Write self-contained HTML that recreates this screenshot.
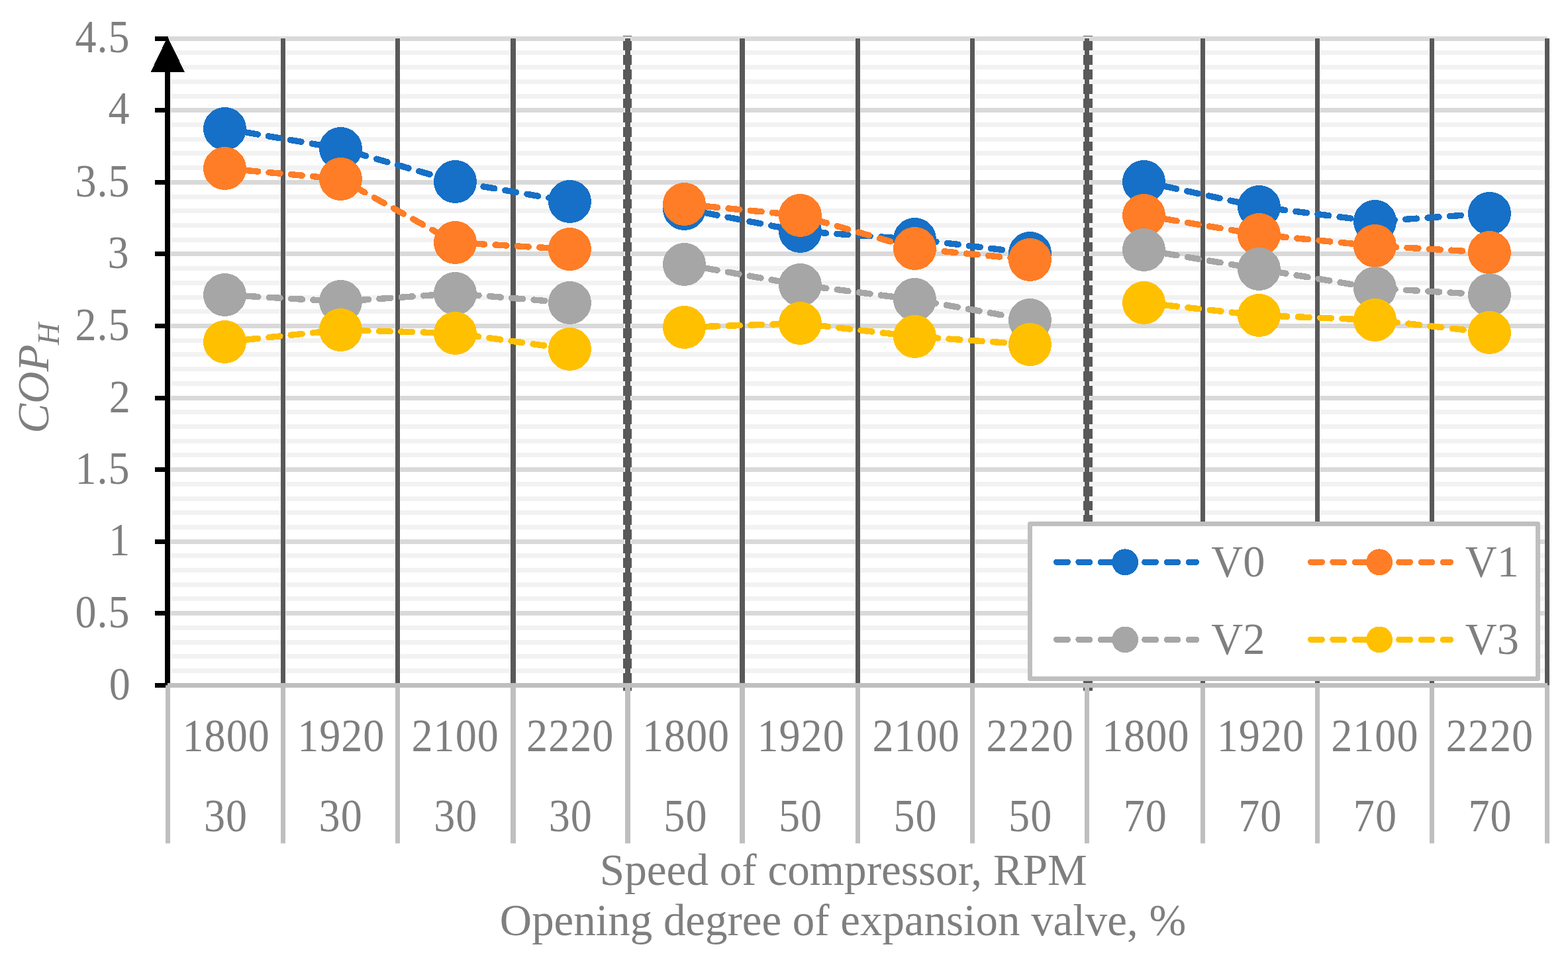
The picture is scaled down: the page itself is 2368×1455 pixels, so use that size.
<!DOCTYPE html>
<html lang="en"><head><meta charset="utf-8"><title>COP chart</title>
<style>html,body{margin:0;padding:0;background:#fff;}body{width:2368px;height:1455px;overflow:hidden;}svg{display:block;}text{font-family:'Liberation Serif', 'Times New Roman', Times, serif;font-size:66.67px;fill:#7f7f7f;}.d{font-size:69.7px;letter-spacing:1.1px;}.l{font-size:67.7px;}</style></head><body>
<svg width="2368" height="1455" viewBox="0 0 2368 1455">
<rect width="2368" height="1455" fill="#fff"/>
<path d="M947.5 54V55M947.5 62V76M947.5 83V98M947.5 105V120M947.5 127V142M947.5 149V163M947.5 170V185M947.5 192V207M947.5 214V228M947.5 235V250M947.5 257V272M947.5 279V294M947.5 301V315M947.5 322V337M947.5 344V359M947.5 366V380M947.5 387V402M947.5 409V424M947.5 431V446M947.5 453V467M947.5 474V489M947.5 496V511M947.5 518V532M947.5 539V554M947.5 561V576M947.5 583V598M947.5 605V619M947.5 626V641M947.5 648V663M947.5 670V684M947.5 691V706M947.5 713V728M947.5 735V750M947.5 757V771M947.5 778V793M947.5 800V815M947.5 822V836M947.5 843V858M947.5 865V880M947.5 887V901M947.5 908V923M947.5 930V945M947.5 952V967M947.5 974V988M947.5 995V1010M947.5 1017V1032M947.5 1039V1043.7" stroke="#595959" stroke-width="13" fill="none"/>
<path d="M1643 54V55M1643 62V76M1643 83V98M1643 105V120M1643 127V142M1643 149V163M1643 170V185M1643 192V207M1643 214V228M1643 235V250M1643 257V272M1643 279V294M1643 301V315M1643 322V337M1643 344V359M1643 366V380M1643 387V402M1643 409V424M1643 431V446M1643 453V467M1643 474V489M1643 496V511M1643 518V532M1643 539V554M1643 561V576M1643 583V598M1643 605V619M1643 626V641M1643 648V663M1643 670V684M1643 691V706M1643 713V728M1643 735V750M1643 757V771M1643 778V793M1643 800V815M1643 822V836M1643 843V858M1643 865V880M1643 887V901M1643 908V923M1643 930V945M1643 952V967M1643 974V988M1643 995V1010M1643 1017V1032M1643 1039V1043.7" stroke="#595959" stroke-width="14" fill="none"/>
<g stroke-width="7" fill="none">
<path stroke="#f2f2f2" d="M257.7 79.5H2334M257.7 101.5H2334M257.7 123.5H2334M257.7 145.5H2334M257.7 188.5H2334M257.7 210.5H2334M257.7 231.5H2334M257.7 253.5H2334M257.7 297.5H2334M257.7 318.5H2334M257.7 340.5H2334M257.7 362.5H2334M257.7 405.5H2334M257.7 427.5H2334M257.7 449.5H2334M257.7 470.5H2334M257.7 514.5H2334M257.7 535.5H2334M257.7 557.5H2334M257.7 579.5H2334M257.7 622.5H2334M257.7 644.5H2334M257.7 666.5H2334M257.7 687.5H2334M257.7 731.5H2334M257.7 753.5H2334M257.7 774.5H2334M257.7 796.5H2334M257.7 839.5H2334M257.7 861.5H2334M257.7 883.5H2334M257.7 904.5H2334M257.7 948.5H2334M257.7 970.5H2334M257.7 991.5H2334M257.7 1013.5H2334"/>
<path stroke="#d9d9d9" d="M254.7 58.5H2337M257.7 166.5H2334M257.7 275.5H2334M257.7 383.5H2334M257.7 492.5H2334M257.7 601.5H2334M257.7 709.5H2334M257.7 818.5H2334M257.7 926.5H2334"/>
</g>
<rect x="423" y="57" width="9" height="976" fill="#fff" fill-opacity=".35"/>
<rect x="596" y="57" width="9" height="976" fill="#fff" fill-opacity=".35"/>
<rect x="770" y="57" width="10" height="976" fill="#fff" fill-opacity=".35"/>
<path d="M948 76v7M948 98v7M948 120v7M948 142v7M948 163v7M948 185v7M948 207v7M948 228v7M948 250v7M948 272v7M948 294v7M948 315v7M948 337v7M948 359v7M948 380v7M948 402v7M948 424v7M948 446v7M948 467v7M948 489v7M948 511v7M948 532v7M948 554v7M948 576v7M948 598v7M948 619v7M948 641v7M948 663v7M948 684v7M948 706v7M948 728v7M948 750v7M948 771v7M948 793v7M948 815v7M948 836v7M948 858v7M948 880v7M948 901v7M948 923v7M948 945v7M948 967v7M948 988v7M948 1010v7" stroke="#fff" stroke-width="10.3" fill="none"/>
<rect x="943" y="57" width="10" height="5" fill="#fff" fill-opacity=".45"/>
<rect x="1116" y="57" width="10" height="976" fill="#fff" fill-opacity=".35"/>
<rect x="1291" y="57" width="9" height="976" fill="#fff" fill-opacity=".35"/>
<rect x="1464" y="57" width="9" height="976" fill="#fff" fill-opacity=".35"/>
<path d="M1641.5 76v7M1641.5 98v7M1641.5 120v7M1641.5 142v7M1641.5 163v7M1641.5 185v7M1641.5 207v7M1641.5 228v7M1641.5 250v7M1641.5 272v7M1641.5 294v7M1641.5 315v7M1641.5 337v7M1641.5 359v7M1641.5 380v7M1641.5 402v7M1641.5 424v7M1641.5 446v7M1641.5 467v7M1641.5 489v7M1641.5 511v7M1641.5 532v7M1641.5 554v7M1641.5 576v7M1641.5 598v7M1641.5 619v7M1641.5 641v7M1641.5 663v7M1641.5 684v7M1641.5 706v7M1641.5 728v7M1641.5 750v7M1641.5 771v7M1641.5 793v7M1641.5 815v7M1641.5 836v7M1641.5 858v7M1641.5 880v7M1641.5 901v7M1641.5 923v7M1641.5 945v7M1641.5 967v7M1641.5 988v7M1641.5 1010v7" stroke="#fff" stroke-width="9.3" fill="none"/>
<rect x="1637" y="57" width="9" height="5" fill="#fff" fill-opacity=".45"/>
<rect x="1812" y="57" width="9" height="976" fill="#fff" fill-opacity=".35"/>
<rect x="1985" y="57" width="9" height="976" fill="#fff" fill-opacity=".35"/>
<rect x="2158" y="57" width="9" height="976" fill="#fff" fill-opacity=".35"/>
<rect x="2332" y="57" width="9" height="976" fill="#fff" fill-opacity=".35"/>
<rect x="424" y="58" width="7" height="978" fill="#595959"/>
<rect x="597" y="58" width="7" height="978" fill="#595959"/>
<rect x="771" y="58" width="8" height="978" fill="#595959"/>
<rect x="944" y="58" width="8" height="978" fill="#595959"/>
<rect x="1117" y="58" width="8" height="978" fill="#595959"/>
<rect x="1292" y="58" width="7" height="978" fill="#595959"/>
<rect x="1465" y="58" width="7" height="978" fill="#595959"/>
<rect x="1638" y="58" width="7" height="978" fill="#595959"/>
<rect x="1813" y="58" width="7" height="978" fill="#595959"/>
<rect x="1986" y="58" width="7" height="978" fill="#595959"/>
<rect x="2159" y="58" width="7" height="978" fill="#595959"/>
<rect x="2333" y="58" width="7" height="978" fill="#595959"/>
<rect x="249" y="100" width="8" height="936" fill="#000"/>
<rect x="234" y="55" width="20" height="7" fill="#000"/>
<rect x="234" y="163" width="19" height="7" fill="#000"/>
<rect x="234" y="272" width="19" height="7" fill="#000"/>
<rect x="234" y="380" width="19" height="7" fill="#000"/>
<rect x="234" y="489" width="19" height="7" fill="#000"/>
<rect x="234" y="598" width="19" height="7" fill="#000"/>
<rect x="234" y="706" width="19" height="7" fill="#000"/>
<rect x="234" y="815" width="19" height="7" fill="#000"/>
<rect x="234" y="923" width="19" height="7" fill="#000"/>
<rect x="234" y="1032" width="19" height="7" fill="#000"/>
<path d="M253.1 55.6L279.2 109.4H227.3Z" fill="#000" shape-rendering="crispEdges"/>
<rect x="253" y="1032" width="2084" height="7" fill="#bfbfbf"/>
<rect x="250" y="1035.3" width="7" height="239" fill="#bfbfbf"/>
<rect x="424" y="1035.3" width="7" height="239" fill="#bfbfbf"/>
<rect x="597" y="1035.3" width="7" height="239" fill="#bfbfbf"/>
<rect x="771" y="1035.3" width="8" height="239" fill="#bfbfbf"/>
<rect x="944" y="1035.3" width="8" height="239" fill="#bfbfbf"/>
<rect x="1117" y="1035.3" width="8" height="239" fill="#bfbfbf"/>
<rect x="1292" y="1035.3" width="7" height="239" fill="#bfbfbf"/>
<rect x="1465" y="1035.3" width="7" height="239" fill="#bfbfbf"/>
<rect x="1638" y="1035.3" width="7" height="239" fill="#bfbfbf"/>
<rect x="1813" y="1035.3" width="7" height="239" fill="#bfbfbf"/>
<rect x="1986" y="1035.3" width="7" height="239" fill="#bfbfbf"/>
<rect x="2159" y="1035.3" width="7" height="239" fill="#bfbfbf"/>
<rect x="2333" y="1035.3" width="7" height="239" fill="#bfbfbf"/>
<g fill="#1670c7" shape-rendering="crispEdges">
<path d="M339.5 194.5L514.5 224.5L687.5 274.5L860.5 304.5M1033.5 315.5L1208.5 349.5L1381.5 361.5L1555.5 382.5M1727.5 274.5L1901.5 312.5L2076.5 334.5L2249.5 322.5" fill="none" stroke="#1670c7" stroke-width="9.4" stroke-linecap="round" stroke-linejoin="round" stroke-dasharray="17 16.4"/>
<circle cx="339.5" cy="194.5" r="32.5"/>
<circle cx="514.5" cy="224.5" r="32.5"/>
<circle cx="687.5" cy="274.5" r="32.5"/>
<circle cx="860.5" cy="304.5" r="32.5"/>
<circle cx="1033.5" cy="315.5" r="32.5"/>
<circle cx="1208.5" cy="349.5" r="32.5"/>
<circle cx="1381.5" cy="361.5" r="32.5"/>
<circle cx="1555.5" cy="382.5" r="32.5"/>
<circle cx="1727.5" cy="274.5" r="32.5"/>
<circle cx="1901.5" cy="312.5" r="32.5"/>
<circle cx="2076.5" cy="334.5" r="32.5"/>
<circle cx="2249.5" cy="322.5" r="32.5"/>
</g>
<g fill="#ff7d26" shape-rendering="crispEdges">
<path d="M339.5 254.5L514.5 270.5L687.5 366.5L860.5 376.5M1033.5 308.5L1208.5 325.5L1381.5 375.5L1555.5 392.5M1727.5 325.5L1901.5 354.5L2076.5 371.5L2249.5 381.5" fill="none" stroke="#ff7d26" stroke-width="9.4" stroke-linecap="round" stroke-linejoin="round" stroke-dasharray="17 16.4"/>
<circle cx="339.5" cy="254.5" r="32.5"/>
<circle cx="514.5" cy="270.5" r="32.5"/>
<circle cx="687.5" cy="366.5" r="32.5"/>
<circle cx="860.5" cy="376.5" r="32.5"/>
<circle cx="1033.5" cy="308.5" r="32.5"/>
<circle cx="1208.5" cy="325.5" r="32.5"/>
<circle cx="1381.5" cy="375.5" r="32.5"/>
<circle cx="1555.5" cy="392.5" r="32.5"/>
<circle cx="1727.5" cy="325.5" r="32.5"/>
<circle cx="1901.5" cy="354.5" r="32.5"/>
<circle cx="2076.5" cy="371.5" r="32.5"/>
<circle cx="2249.5" cy="381.5" r="32.5"/>
</g>
<g fill="#a6a6a6" shape-rendering="crispEdges">
<path d="M339.5 445.5L514.5 455.5L687.5 443.5L860.5 457.5M1033.5 399.5L1208.5 430.5L1381.5 452.5L1555.5 483.5M1727.5 377.5L1901.5 406.5L2076.5 435.5L2249.5 445.5" fill="none" stroke="#a6a6a6" stroke-width="9.4" stroke-linecap="round" stroke-linejoin="round" stroke-dasharray="17 16.4"/>
<circle cx="339.5" cy="445.5" r="32.5"/>
<circle cx="514.5" cy="455.5" r="32.5"/>
<circle cx="687.5" cy="443.5" r="32.5"/>
<circle cx="860.5" cy="457.5" r="32.5"/>
<circle cx="1033.5" cy="399.5" r="32.5"/>
<circle cx="1208.5" cy="430.5" r="32.5"/>
<circle cx="1381.5" cy="452.5" r="32.5"/>
<circle cx="1555.5" cy="483.5" r="32.5"/>
<circle cx="1727.5" cy="377.5" r="32.5"/>
<circle cx="1901.5" cy="406.5" r="32.5"/>
<circle cx="2076.5" cy="435.5" r="32.5"/>
<circle cx="2249.5" cy="445.5" r="32.5"/>
</g>
<g fill="#ffc000" shape-rendering="crispEdges">
<path d="M339.5 516.5L514.5 498.5L687.5 503.5L860.5 527.5M1033.5 494.5L1208.5 488.5L1381.5 508.5L1555.5 520.5M1727.5 457.5L1901.5 476.5L2076.5 483.5L2249.5 502.5" fill="none" stroke="#ffc000" stroke-width="9.4" stroke-linecap="round" stroke-linejoin="round" stroke-dasharray="17 16.4"/>
<circle cx="339.5" cy="516.5" r="32.5"/>
<circle cx="514.5" cy="498.5" r="32.5"/>
<circle cx="687.5" cy="503.5" r="32.5"/>
<circle cx="860.5" cy="527.5" r="32.5"/>
<circle cx="1033.5" cy="494.5" r="32.5"/>
<circle cx="1208.5" cy="488.5" r="32.5"/>
<circle cx="1381.5" cy="508.5" r="32.5"/>
<circle cx="1555.5" cy="520.5" r="32.5"/>
<circle cx="1727.5" cy="457.5" r="32.5"/>
<circle cx="1901.5" cy="476.5" r="32.5"/>
<circle cx="2076.5" cy="483.5" r="32.5"/>
<circle cx="2249.5" cy="502.5" r="32.5"/>
</g>
<rect x="1555.5" y="791.5" width="767" height="234" fill="#fff" stroke="#bfbfbf" stroke-width="7" stroke-linejoin="round"/>
<g shape-rendering="crispEdges"><path d="M1595.7 849.3H1806.4" fill="none" stroke="#1670c7" stroke-width="9.4" stroke-linecap="round" stroke-dasharray="16.5 16.8"/>
<circle cx="1699.2" cy="849.3" r="19.9" fill="#1670c7"/></g>
<text class="l" transform="translate(1829.3 870.7) scale(.98 1)">V0</text>
<g shape-rendering="crispEdges"><path d="M1979.7 849.3H2190.4" fill="none" stroke="#ff7d26" stroke-width="9.4" stroke-linecap="round" stroke-dasharray="16.5 16.8"/>
<circle cx="2083.2" cy="849.3" r="19.9" fill="#ff7d26"/></g>
<text class="l" transform="translate(2212.8 870.7) scale(.98 1)">V1</text>
<g shape-rendering="crispEdges"><path d="M1595.7 966.4H1806.4" fill="none" stroke="#a6a6a6" stroke-width="9.4" stroke-linecap="round" stroke-dasharray="16.5 16.8"/>
<circle cx="1699.2" cy="966.4" r="19.9" fill="#a6a6a6"/></g>
<text class="l" transform="translate(1829.3 987.8) scale(.98 1)">V2</text>
<g shape-rendering="crispEdges"><path d="M1979.7 966.4H2190.4" fill="none" stroke="#ffc000" stroke-width="9.4" stroke-linecap="round" stroke-dasharray="16.5 16.8"/>
<circle cx="2083.2" cy="966.4" r="19.9" fill="#ffc000"/></g>
<text class="l" transform="translate(2212.8 987.8) scale(.98 1)">V3</text>
<text class="d" text-anchor="end" transform="translate(196.7 78.8) scale(.92 1)">4.5</text>
<text class="d" text-anchor="end" transform="translate(196.7 186.8) scale(.92 1)">4</text>
<text class="d" text-anchor="end" transform="translate(196.7 297.2) scale(.92 1)">3.5</text>
<text class="d" text-anchor="end" transform="translate(195.7 405.2) scale(.92 1)">3</text>
<text class="d" text-anchor="end" transform="translate(196.7 514.1) scale(.92 1)">2.5</text>
<text class="d" text-anchor="end" transform="translate(197.77 623) scale(.92 1)">2</text>
<text class="d" text-anchor="end" transform="translate(196.7 731) scale(.92 1)">1.5</text>
<text class="d" text-anchor="end" transform="translate(197.45 838.9) scale(.92 1)">1</text>
<text class="d" text-anchor="end" transform="translate(196.7 948.2) scale(.92 1)">0.5</text>
<text class="d" text-anchor="end" transform="translate(197.8 1057.3) scale(.92 1)">0</text>
<text class="d" text-anchor="middle" transform="translate(341.69 1135.3) scale(.92 1)">1800</text>
<text class="d" text-anchor="middle" transform="translate(515.27 1135.3) scale(.92 1)">1920</text>
<text class="d" text-anchor="middle" transform="translate(687.66 1135.3) scale(.92 1)">2100</text>
<text class="d" text-anchor="middle" transform="translate(861.24 1135.3) scale(.92 1)">2220</text>
<text class="d" text-anchor="middle" transform="translate(1036.02 1135.3) scale(.92 1)">1800</text>
<text class="d" text-anchor="middle" transform="translate(1209.61 1135.3) scale(.92 1)">1920</text>
<text class="d" text-anchor="middle" transform="translate(1383.59 1135.3) scale(.92 1)">2100</text>
<text class="d" text-anchor="middle" transform="translate(1555.57 1135.3) scale(.92 1)">2220</text>
<text class="d" text-anchor="middle" transform="translate(1730.36 1135.3) scale(.92 1)">1800</text>
<text class="d" text-anchor="middle" transform="translate(1903.94 1135.3) scale(.92 1)">1920</text>
<text class="d" text-anchor="middle" transform="translate(2076.32 1135.3) scale(.92 1)">2100</text>
<text class="d" text-anchor="middle" transform="translate(2249.91 1135.3) scale(.92 1)">2220</text>
<text class="d" text-anchor="middle" transform="translate(341.09 1255.8) scale(.92 1)">30</text>
<text class="d" text-anchor="middle" transform="translate(514.68 1255.8) scale(.92 1)">30</text>
<text class="d" text-anchor="middle" transform="translate(688.26 1255.8) scale(.92 1)">30</text>
<text class="d" text-anchor="middle" transform="translate(861.84 1255.8) scale(.92 1)">30</text>
<text class="d" text-anchor="middle" transform="translate(1035.42 1255.8) scale(.92 1)">50</text>
<text class="d" text-anchor="middle" transform="translate(1209.01 1255.8) scale(.92 1)">50</text>
<text class="d" text-anchor="middle" transform="translate(1382.59 1255.8) scale(.92 1)">50</text>
<text class="d" text-anchor="middle" transform="translate(1556.17 1255.8) scale(.92 1)">50</text>
<text class="d" text-anchor="middle" transform="translate(1729.76 1255.8) scale(.92 1)">70</text>
<text class="d" text-anchor="middle" transform="translate(1903.34 1255.8) scale(.92 1)">70</text>
<text class="d" text-anchor="middle" transform="translate(2076.92 1255.8) scale(.92 1)">70</text>
<text class="d" text-anchor="middle" transform="translate(2250.51 1255.8) scale(.92 1)">70</text>
<text text-anchor="middle" transform="translate(1273.8 1336.5) scale(1.0074 1)">Speed of compressor, RPM</text>
<text text-anchor="middle" transform="translate(1273 1413.4) scale(1.0034 1)">Opening degree of expansion valve, %</text>
<text transform="translate(72.7 654.8) rotate(-90) scale(.985 1)" style="font-style:italic;font-size:68.3px">COP<tspan style="font-size:47px" dx="-1" dy="16.1">H</tspan></text>
</svg></body></html>
